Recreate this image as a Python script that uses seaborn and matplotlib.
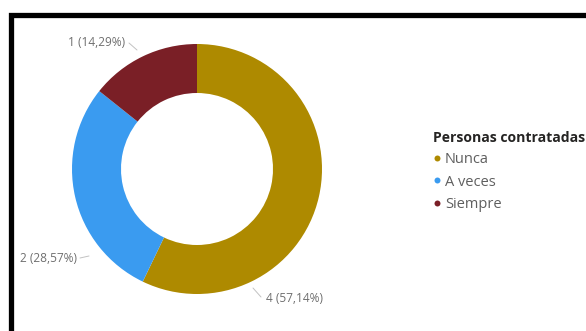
import matplotlib
matplotlib.use("Agg")
import matplotlib.pyplot as plt
from matplotlib.patches import Rectangle
from matplotlib.lines import Line2D
import seaborn as sns

# Data
categories = ["Nunca", "A veces", "Siempre"]
counts = [4, 2, 1]
colors = ["#AE8A00", "#3A9BF0", "#7A1F26"]
legend_title = "Personas contratadas"

sns.set_theme(style="white")
plt.rcParams["font.family"] = ["Open Sans", "DejaVu Sans"]

W, H = 586, 331
fig = plt.figure(figsize=(W / 100, H / 100), dpi=100)
ax = fig.add_axes([0, 0, 1, 1])

def py(y):
    # pixel row (top-down) -> data y (bottom-up)
    return H - y

total = sum(counts)
wedges, _ = ax.pie(
    counts,
    colors=colors,
    startangle=90,
    counterclock=False,
    radius=125,
    center=(197, py(169)),
    wedgeprops=dict(width=49, edgecolor="none"),
)

ax.set_xlim(0, W)
ax.set_ylim(0, H)
ax.set_aspect("equal", adjustable="box")
ax.axis("off")

# Data labels with short leader lines
label_layout = {
    "Siempre": dict(text=(97, 42), line=((129, 43), (137, 50))),
    "A veces": dict(text=(48, 258), line=((80, 258), (89, 256))),
    "Nunca": dict(text=(294, 299), line=((253, 288), (261, 297))),
}
for cat, n in zip(categories, counts):
    lay = label_layout[cat]
    pct = f"{n / total * 100:.2f}".replace(".", ",")
    tx, ty = lay["text"]
    ax.text(tx, py(ty), f"{n} ({pct}%)", ha="center", va="center",
            fontsize=8.6, color="#6f6f6f")
    (x0, y0), (x1, y1) = lay["line"]
    ax.plot([x0, x1], [py(y0), py(y1)], color="#c2c2c2", lw=0.7)

# Frame around the visual
ax.add_patch(Rectangle((10.5, -60), 700, py(15) + 60, fill=False,
                       edgecolor="black", lw=3.8))

handles = [Line2D([], [], marker="o", linestyle="none", markersize=4.3,
                  markerfacecolor=c, markeredgecolor="none") for c in colors]
leg = ax.legend(
    handles, categories,
    title=legend_title,
    loc="upper left",
    bbox_to_anchor=(433, py(131)),
    bbox_transform=ax.transData,
    frameon=False,
    fontsize=10.5,
    title_fontproperties=dict(weight="bold", size=10.1),
    handlelength=0.5,
    handletextpad=0.32,
    labelspacing=0.5,
    borderpad=0,
    borderaxespad=0,
    alignment="left",
)
leg.get_title().set_color("#252423")
for t in leg.get_texts():
    t.set_color("#5f5f5f")

fig.savefig("out.png", dpi=100)
